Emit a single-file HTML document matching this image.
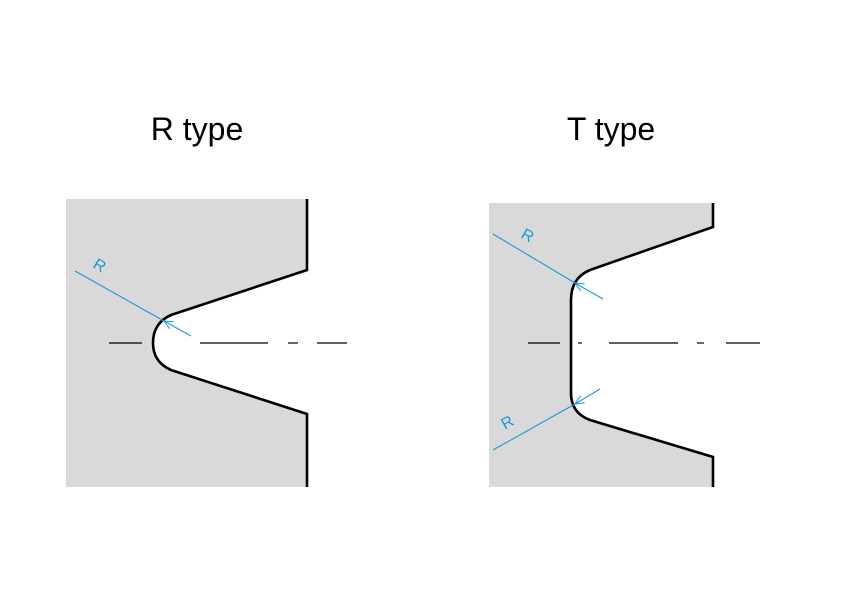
<!DOCTYPE html>
<html><head><style>body{margin:0;background:#fff}svg{display:block}</style></head><body>
<svg width="842" height="595" viewBox="0 0 842 595" xmlns="http://www.w3.org/2000/svg">
<defs><marker id="a" markerWidth="10" markerHeight="10" refX="9" refY="5" orient="auto" markerUnits="userSpaceOnUse"><path d="M0,1 L9,5 L0,9" fill="none" stroke="#1a9ad6" stroke-width="1"/></marker></defs>
<text x="197" y="140" font-family="Liberation Sans, sans-serif" font-size="32" text-anchor="middle" fill="#000">R type</text>
<text x="611" y="140" font-family="Liberation Sans, sans-serif" font-size="32" text-anchor="middle" fill="#000">T type</text>
<!-- R type -->
<path d="M66,199 H307 V270 L171,315 Q153,323 153,343 Q153,362 171,370 L307,414 V487 H66 Z" fill="#d9d9d9"/>
<path d="M307,199 V270 L171,315 Q153,323 153,343 Q153,362 171,370 L307,414 V487" fill="none" stroke="#000" stroke-width="2.6"/>
<g stroke="#000" stroke-width="1.2"><line x1="109" y1="343" x2="142" y2="343"/><line x1="200" y1="343" x2="268" y2="343"/><line x1="288" y1="343" x2="298" y2="343"/><line x1="317" y1="343" x2="347" y2="343"/></g>
<line x1="75" y1="271" x2="164" y2="321" stroke="#1a9ad6" stroke-width="1.1"/>
<line x1="191" y1="336" x2="164" y2="321" stroke="#1a9ad6" stroke-width="1.1" marker-end="url(#a)"/>
<text x="97" y="270" font-family="Liberation Sans, sans-serif" font-size="16" fill="#1a9ad6" transform="rotate(30 97 270)" text-anchor="middle">R</text>
<!-- T type -->
<path d="M489,203 H713 V227 L590,270 Q571,278 571,300 V393 Q571,413 590,420 L713,457 V487 H489 Z" fill="#d9d9d9"/>
<path d="M713,203 V227 L590,270 Q571,278 571,300 V393 Q571,413 590,420 L713,457 V487" fill="none" stroke="#000" stroke-width="2.6"/>
<g stroke="#000" stroke-width="1.2"><line x1="528" y1="343" x2="560" y2="343"/><line x1="578" y1="343" x2="582" y2="343"/><line x1="609" y1="343" x2="678" y2="343"/><line x1="697" y1="343" x2="704" y2="343"/><line x1="726" y1="343" x2="760" y2="343"/></g>
<line x1="493" y1="234" x2="575" y2="283" stroke="#1a9ad6" stroke-width="1.1"/>
<line x1="603" y1="299" x2="575" y2="283" stroke="#1a9ad6" stroke-width="1.1" marker-end="url(#a)"/>
<line x1="493" y1="450" x2="575" y2="404" stroke="#1a9ad6" stroke-width="1.1"/>
<line x1="600" y1="389" x2="575" y2="404" stroke="#1a9ad6" stroke-width="1.1" marker-end="url(#a)"/>
<text x="525" y="240" font-family="Liberation Sans, sans-serif" font-size="16" fill="#1a9ad6" transform="rotate(30 525 240)" text-anchor="middle">R</text>
<text x="510" y="427" font-family="Liberation Sans, sans-serif" font-size="16" fill="#1a9ad6" transform="rotate(-30 510 427)" text-anchor="middle">R</text>
</svg>
</body></html>
